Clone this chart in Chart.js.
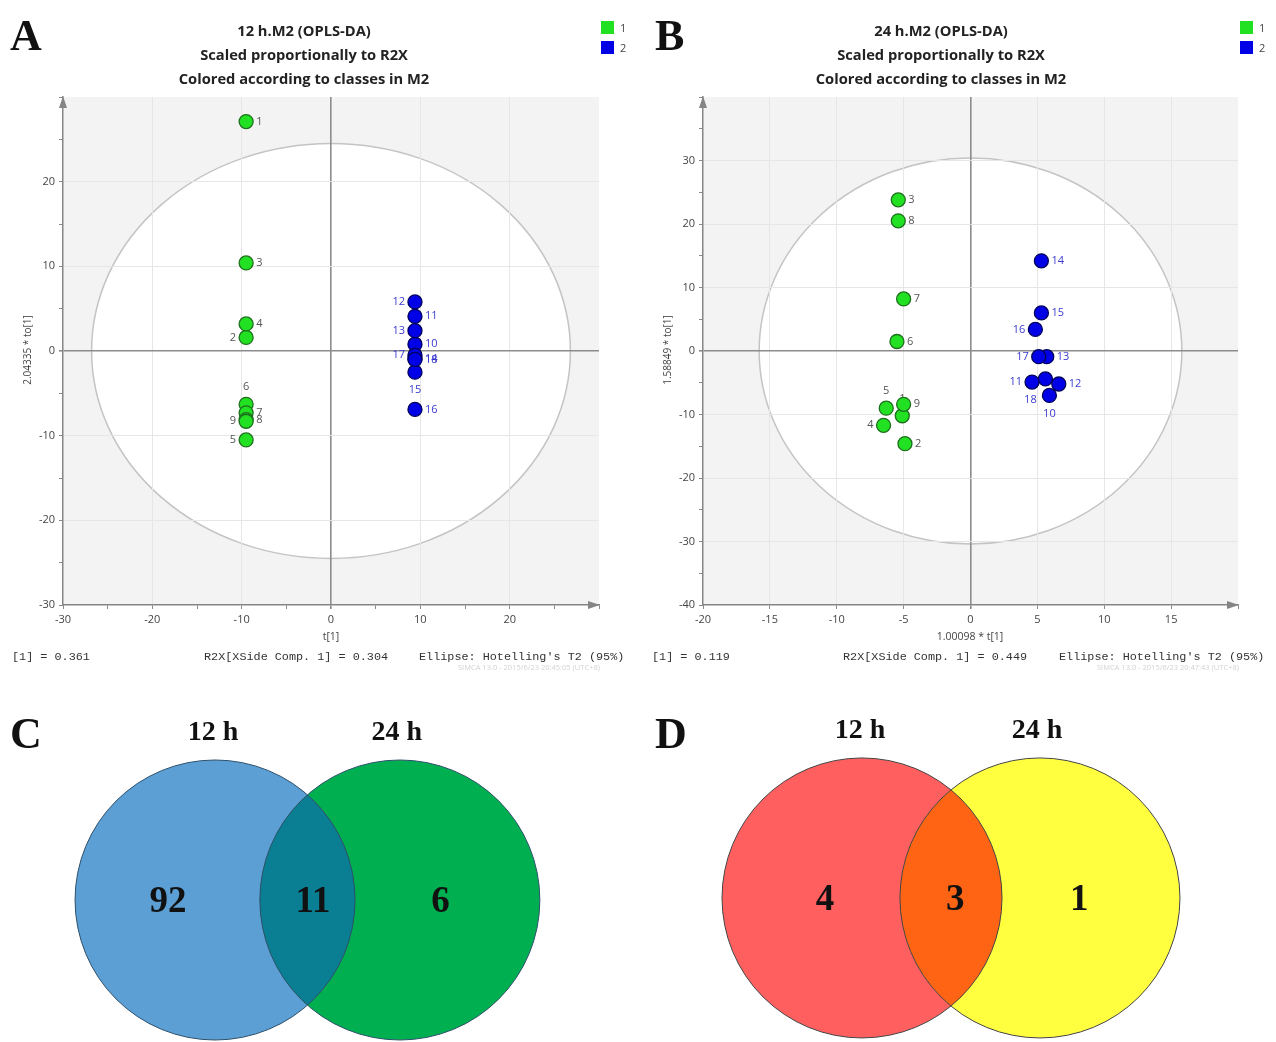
<!DOCTYPE html>
<html><head><meta charset="utf-8">
<script src="https://cdn.jsdelivr.net/npm/chart.js@4.4.1/dist/chart.umd.min.js"></script>
<style>
html,body{margin:0;padding:0;background:#fff}
body{width:1276px;height:1042px;position:relative;overflow:hidden}
canvas{position:absolute}
.t{position:absolute;white-space:nowrap}
.letter{font:bold 44px 'Liberation Serif',serif;color:#111;line-height:1}
.title{font:bold 14.7px 'Open Sans',sans-serif;color:#222;text-align:center;width:400px;line-height:24px}
.leg{font:11px 'Open Sans',sans-serif;color:#444;line-height:14px}
.sw{position:absolute;width:13px;height:13px}
.foot{font:11.8px 'Liberation Mono',monospace;color:#333;line-height:14px}
.wm{font:7.5px 'Open Sans',sans-serif;color:#d2d2d2;line-height:10px}
.axt{font:10.5px 'Open Sans',sans-serif;color:#444;line-height:14px;text-align:center;width:160px}
.yt{font:10px 'Open Sans',sans-serif;color:#444;line-height:14px;text-align:center;width:160px;transform:rotate(-90deg)}
</style></head><body>
<canvas id="cA" width="640" height="680" style="left:0;top:0"></canvas>
<canvas id="cB" width="636" height="680" style="left:640px;top:0"></canvas>
<canvas id="cC" width="638" height="362" style="left:0;top:680px"></canvas>
<canvas id="cD" width="638" height="362" style="left:638px;top:680px"></canvas>

<div class="t letter" style="left:10px;top:14px">A</div>
<div class="t letter" style="left:655px;top:14px">B</div>
<div class="t letter" style="left:10px;top:712px">C</div>
<div class="t letter" style="left:655px;top:712px">D</div>

<div class="t title" style="left:104px;top:18px">12 h.M2 (OPLS-DA)<br>Scaled proportionally to R2X<br>Colored according to classes in M2</div>
<div class="t title" style="left:741px;top:18px">24 h.M2 (OPLS-DA)<br>Scaled proportionally to R2X<br>Colored according to classes in M2</div>

<div class="sw" style="left:601px;top:21px;background:#22e022"></div><div class="t leg" style="left:620px;top:21px">1</div>
<div class="sw" style="left:601px;top:41px;background:#0000e6"></div><div class="t leg" style="left:620px;top:41px">2</div>
<div class="sw" style="left:1240px;top:21px;background:#22e022"></div><div class="t leg" style="left:1259px;top:21px">1</div>
<div class="sw" style="left:1240px;top:41px;background:#0000e6"></div><div class="t leg" style="left:1259px;top:41px">2</div>

<div class="t axt" style="left:251px;top:629px">t[1]</div>
<div class="t axt" style="left:890px;top:629px">1.00098 * t[1]</div>
<div class="t yt" style="left:-53px;top:343px">2.04335 * to[1]</div>
<div class="t yt" style="left:587px;top:343px">1.58849 * to[1]</div>

<div class="t foot" style="left:12px;top:650px">[1] = 0.361</div>
<div class="t foot" style="left:204px;top:650px">R2X[XSide Comp. 1] = 0.304</div>
<div class="t foot" style="left:419px;top:650px">Ellipse: Hotelling's T2 (95%)</div>
<div class="t wm" style="left:458px;top:662px">SIMCA 13.0 - 2015/6/23 20:45:05 (UTC+8)</div>
<div class="t foot" style="left:652px;top:650px">[1] = 0.119</div>
<div class="t foot" style="left:843px;top:650px">R2X[XSide Comp. 1] = 0.449</div>
<div class="t foot" style="left:1059px;top:650px">Ellipse: Hotelling's T2 (95%)</div>
<div class="t wm" style="left:1097px;top:662px">SIMCA 13.0 - 2015/6/23 20:47:43 (UTC+8)</div>

<script>
// ---------- Panel A: 12 h OPLS-DA scores ----------
const aIds1 = ['1','2','3','4','5','6','7','8','9'];
const aT1   = [-9.5,-9.5,-9.5,-9.5,-9.5,-9.5,-9.5,-9.5,-9.5];
const aTo1  = [27.1,1.6,10.4,3.2,-10.5,-6.3,-7.3,-8.1,-8.3];
const aIds2 = ['10','11','12','13','14','15','16','17','18'];
const aT2   = [9.4,9.4,9.4,9.4,9.4,9.4,9.4,9.4,9.4];
const aTo2  = [0.8,4.1,5.8,2.4,-0.9,-2.5,-6.9,-0.5,-1.0];
const aXTicks = [-30,-20,-10,0,10,20];
const aYTicks = [-30,-20,-10,0,10,20];

// ---------- Panel B: 24 h OPLS-DA scores ----------
const bIds1 = ['1','2','3','4','5','6','7','8','9'];
const bT1   = [-5.1,-4.9,-5.4,-6.5,-6.3,-5.5,-5.0,-5.4,-5.0];
const bTo1  = [-10.2,-14.6,23.8,-11.7,-9.0,1.5,8.2,20.5,-8.4];
const bIds2 = ['10','11','12','13','14','15','16','17','18'];
const bT2   = [5.9,4.6,6.6,5.7,5.3,5.3,4.85,5.1,5.6];
const bTo2  = [-7.0,-4.9,-5.2,-0.9,14.2,6.0,3.4,-0.9,-4.4];
const bXTicks = [-20,-15,-10,-5,0,5,10,15];
const bYTicks = [-40,-30,-20,-10,0,10,20,30];

// ---------- Venn diagrams ----------
const vennSets = ['12 h','24 h'];
const vennC = [92, 11, 6];   // only 12 h, shared, only 24 h
const vennD = [4, 3, 1];

// ---------- styles (label placement, geometry) ----------
const aPos1 = ['right','left','right','right','left','above','right','right','left'];
const aPos2 = ['right','right','left','left','right','below','right','left','right'];
const bPos1 = ['above','right','right','left','above','right','right','right','right'];
const bPos2 = ['below','left','right','right','right','right','left','left','belowleft'];

Chart.defaults.font.family = "'Open Sans', sans-serif";

const pts = (xs, ys) => xs.map((v,i)=>({x:v, y:ys[i]}));

const scorePlugin = {
  id:'scoreBg',
  beforeDraw(chart){
    const {ctx, chartArea:a, scales:{x,y}} = chart;
    const e = chart.options.plugins.scoreBg;
    ctx.save();
    ctx.fillStyle = '#f3f3f3';
    ctx.fillRect(a.left, a.top, a.right-a.left, a.bottom-a.top);
    const cx = x.getPixelForValue(0), cy = y.getPixelForValue(0);
    const rx = x.getPixelForValue(e.rx) - cx, ry = cy - y.getPixelForValue(e.ry);
    ctx.beginPath(); ctx.ellipse(cx, cy, rx, ry, 0, 0, Math.PI*2);
    ctx.fillStyle = '#ffffff'; ctx.fill();
    ctx.lineWidth = 1.5; ctx.strokeStyle = '#c4c4c4'; ctx.stroke();
    ctx.restore();
  },
  beforeDatasetsDraw(chart){
    const ctx = chart.ctx;
    ctx.save();
    ctx.font = "11px 'Open Sans', sans-serif";
    ctx.textBaseline = 'middle';
    chart.data.datasets.forEach((ds,di)=>{
      const meta = chart.getDatasetMeta(di);
      meta.data.forEach((p,i)=>{
        let x=p.x, y=p.y, al='left';
        const pos = ds.labelPos[i];
        if(pos==='right'){x+=10;}
        else if(pos==='left'){x-=10; al='right';}
        else if(pos==='above'){y-=17; al='center';}
        else if(pos==='below'){y+=18; al='center';}
        else if(pos==='belowleft'){x-=15; y+=21; al='center';}
        ctx.textAlign = al;
        ctx.fillStyle = ds.labelColor;
        ctx.fillText(ds.ids[i], x, y);
      });
    });
    ctx.restore();
  },
  afterDraw(chart){
    const {ctx, chartArea:a} = chart;
    ctx.save();
    ctx.fillStyle = '#858585';
    ctx.beginPath(); ctx.moveTo(a.left, a.top-1); ctx.lineTo(a.left-4, a.top+11); ctx.lineTo(a.left+4, a.top+11); ctx.closePath(); ctx.fill();
    ctx.beginPath(); ctx.moveTo(a.right+1, a.bottom); ctx.lineTo(a.right-11, a.bottom-4); ctx.lineTo(a.right-11, a.bottom+4); ctx.closePath(); ctx.fill();
    ctx.restore();
  }
};

function axis(min, max, labels, fit){
  return {
    type:'linear', min, max,
    afterFit: fit,
    ticks:{stepSize:5, autoSkip:false, maxRotation:0, color:'#444', font:{size:11}, padding:4,
      callback: v => labels.includes(v) ? String(v) : ''},
    grid:{
      color: c => !c.tick ? 'rgba(0,0,0,0)' : (c.tick.value===0 ? '#8c8c8c' :
        (labels.includes(c.tick.value) && c.tick.value!==min ? '#e6e6e6' : 'rgba(0,0,0,0)')),
      lineWidth: c => (c.tick && c.tick.value===0) ? 1.6 : 1,
      tickColor:'#8a8a8a', tickLength:4, drawTicks:true
    },
    border:{display:true, color:'#858585', width:1.5}
  };
}

function scoreChart(id, d, opt){
  return new Chart(document.getElementById(id), {
    type:'scatter',
    data:{datasets:[
      {label:'1', data:pts(d.t1,d.to1), ids:d.ids1, labelPos:d.pos1, labelColor:'#555555',
       backgroundColor:'#22e022', borderColor:'#1d6f1d', borderWidth:1.3, pointRadius:7, pointHoverRadius:7},
      {label:'2', data:pts(d.t2,d.to2), ids:d.ids2, labelPos:d.pos2, labelColor:'#3a3ad0',
       backgroundColor:'#0000e6', borderColor:'#00005c', borderWidth:1.3, pointRadius:7, pointHoverRadius:7}
    ]},
    options:{
      responsive:false, animation:false, events:[],
      layout:{padding:{left:0, right:opt.padRight, top:97, bottom:0}},
      plugins:{legend:{display:false}, tooltip:{enabled:false}, scoreBg:{rx:opt.rx, ry:opt.ry}},
      scales:{
        x: axis(opt.xmin, opt.xmax, d.xt, s=>{s.height=75;}),
        y: axis(opt.ymin, opt.ymax, d.yt, s=>{s.width=63;})
      }
    },
    plugins:[scorePlugin]
  });
}

scoreChart('cA', {ids1:aIds1,t1:aT1,to1:aTo1,pos1:aPos1,ids2:aIds2,t2:aT2,to2:aTo2,pos2:aPos2,xt:aXTicks,yt:aYTicks},
  {padRight:41, xmin:-30, xmax:30, ymin:-30, ymax:30, rx:26.8, ry:24.5});
scoreChart('cB', {ids1:bIds1,t1:bT1,to1:bTo1,pos1:bPos1,ids2:bIds2,t2:bT2,to2:bTo2,pos2:bPos2,xt:bXTicks,yt:bYTicks},
  {padRight:38, xmin:-20, xmax:20, ymin:-40, ymax:40, rx:15.8, ry:30.4});

// ---------- Venn charts ----------
const vennPlugin = {
  id:'venn',
  afterDraw(chart){
    const {ctx, scales:{x,y}} = chart;
    const o = chart.options.plugins.venn;
    const r = x.getPixelForValue(1) - x.getPixelForValue(0);
    const c1 = [x.getPixelForValue(0), y.getPixelForValue(0)];
    const c2 = [x.getPixelForValue(o.d), y.getPixelForValue(0)];
    const circ = c => {ctx.beginPath(); ctx.arc(c[0], c[1], r, 0, Math.PI*2);};
    ctx.save();
    circ(c1); ctx.fillStyle = o.col[0]; ctx.fill();
    circ(c2); ctx.fillStyle = o.col[2]; ctx.fill();
    ctx.save(); circ(c1); ctx.clip(); circ(c2); ctx.fillStyle = o.col[1]; ctx.fill(); ctx.restore();
    ctx.lineWidth = 1; ctx.strokeStyle = o.stroke;
    circ(c1); ctx.stroke(); circ(c2); ctx.stroke();
    ctx.fillStyle = '#111'; ctx.textAlign='center'; ctx.textBaseline='middle';
    ctx.font = "bold 28px 'Liberation Serif', serif";
    ctx.fillText(vennSets[0], c1[0]-2, c1[1]-r-27);
    ctx.fillText(vennSets[1], c2[0]-3, c2[1]-r-27);
    ctx.font = "bold 37px 'Liberation Serif', serif";
    const v = o.values;
    ctx.fillText(String(v[0]), c1[0]+o.lx*r, c1[1]+2);
    ctx.fillText(String(v[1]), (c1[0]+c2[0])/2+o.mx*r, c1[1]+2);
    ctx.fillText(String(v[2]), c2[0]+o.rx*r, c1[1]+2);
    ctx.restore();
  }
};

function vennChart(id, values, o){
  return new Chart(document.getElementById(id), {
    type:'scatter',
    data:{datasets:[{data:[]}]},
    options:{
      responsive:false, animation:false, events:[],
      layout:{padding:0},
      plugins:{legend:{display:false}, tooltip:{enabled:false},
        venn:{values, d:o.d, col:o.col, stroke:o.stroke, lx:o.lx, mx:o.mx, rx:o.rx}},
      scales:{
        x:{type:'linear', display:false, min:o.xmin, max:o.xmax},
        y:{type:'linear', display:false, min:o.ymin, max:o.ymax}
      }
    },
    plugins:[vennPlugin]
  });
}

vennChart('cC', vennC, {d:1.32, xmin:-1.536, xmax:3.021, ymin:-1.014, ymax:1.571,
  lx:-0.336, mx:0.04, rx:0.29,
  col:['#5b9fd4','#0a7f93','#00b050'], stroke:'#2d4f6a'});
vennChart('cD', vennD, {d:1.271, xmin:-1.6, xmax:2.957, ymin:-1.029, ymax:1.557,
  lx:-0.264, mx:0.03, rx:0.28,
  col:['#ff5f5f','#ff6414','#ffff40'], stroke:'#444444'});
</script>
</body></html>
